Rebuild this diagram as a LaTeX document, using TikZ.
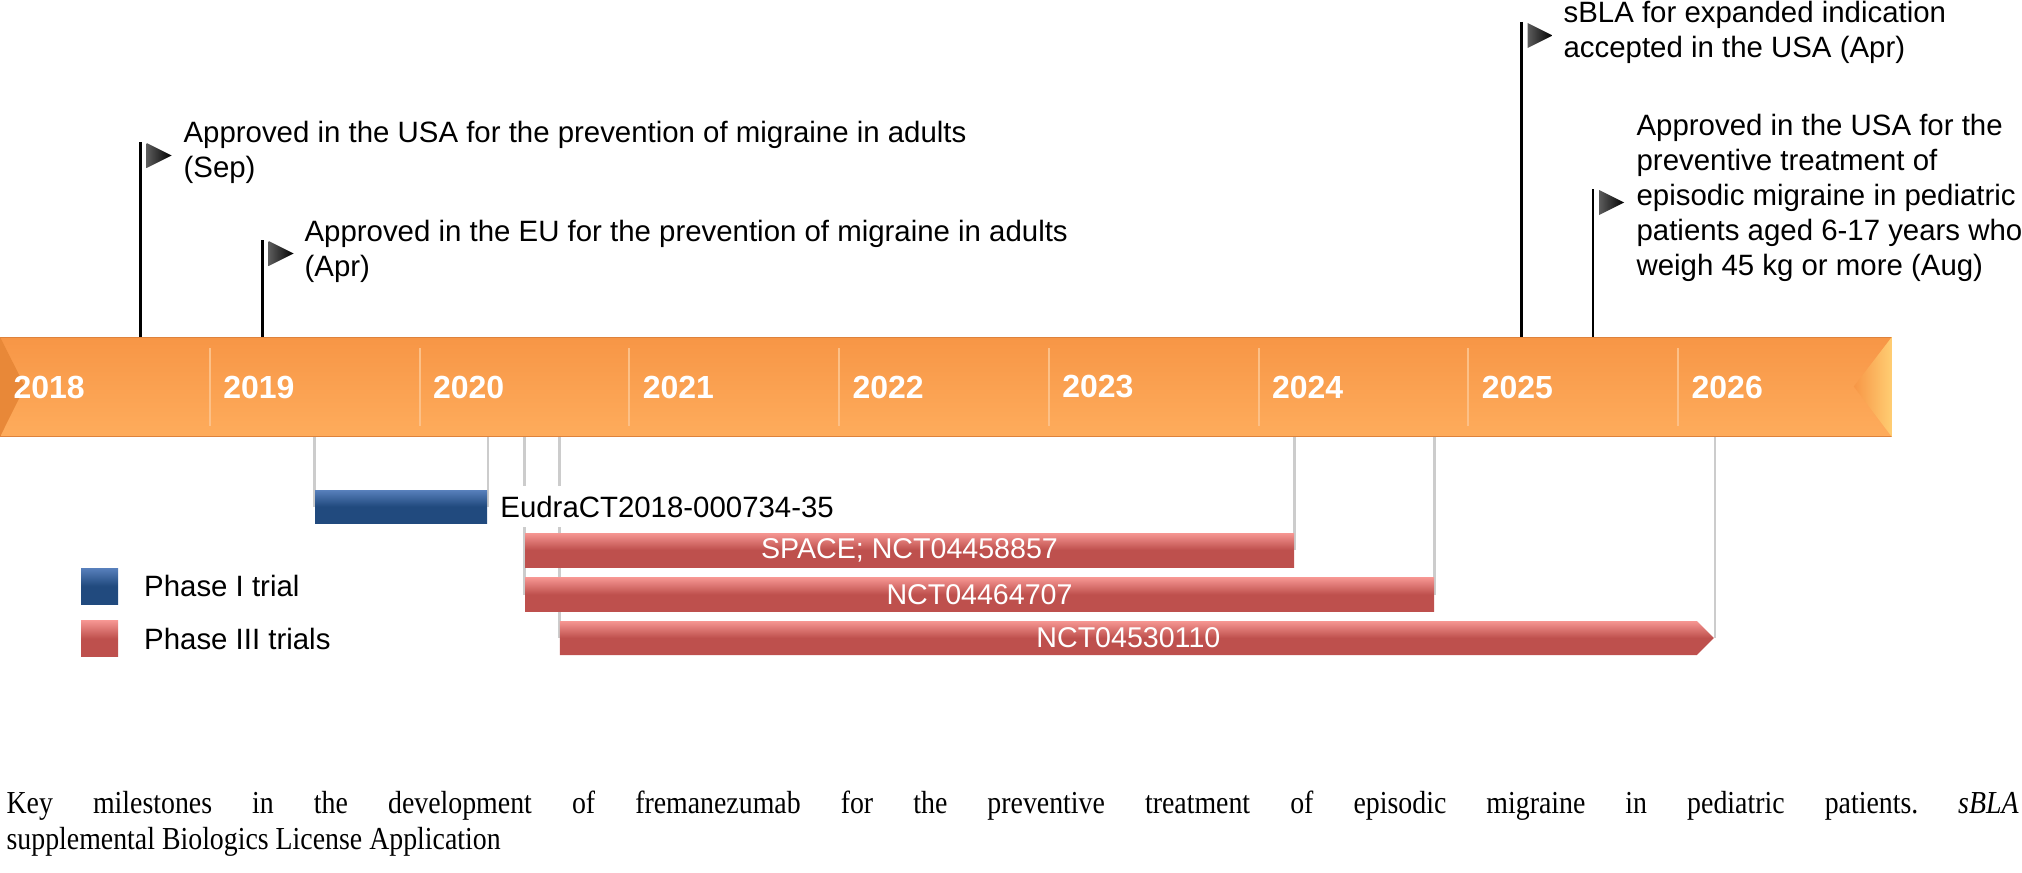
\documentclass[tikz,border=0pt]{standalone}
\usepackage{fontspec}
\setmainfont{Liberation Sans}
\newfontfamily\capfont[FakeStretch=0.87]{Liberation Serif}
\usetikzlibrary{positioning,shapes.symbols,backgrounds}

\definecolor{tltop}{RGB}{247,150,70}
\definecolor{tlbot}{RGB}{254,172,92}
\definecolor{tledge}{RGB}{222,130,60}
\definecolor{tlleft}{RGB}{232,136,56}
\definecolor{tlright}{RGB}{255,206,115}
\definecolor{tldiv}{RGB}{252,192,135}
\definecolor{bluetop}{RGB}{88,128,188}
\definecolor{bluebot}{RGB}{33,74,126}
\definecolor{redtop}{RGB}{246,150,146}
\definecolor{redbot}{RGB}{190,80,77}
\definecolor{conngray}{RGB}{204,204,204}

\begin{document}
\begin{tikzpicture}[x=0.5pt,y=-0.5pt,semithick,
  every node/.style={font=\fontsize{14.7}{17.5}\selectfont},
  timeline/.style={rectangle,draw=tledge,thin,top color=tltop,bottom color=tlbot,
    minimum width=945.5pt,minimum height=49.5pt,inner sep=0,anchor=north west},
  yearlab/.style={text=white,font=\fontsize{16}{19}\selectfont\bfseries,anchor=west,inner sep=0},
  divider/.style={tldiv,line width=1pt},
  milestone/.style={align=left,anchor=north west,inner sep=0},
  pole/.style={black,line width=1.2pt},
  flagtip/.style={left color=black!55,right color=black},
  conn/.style={conngray,line width=1.2pt},
  blueshade/.style={top color=bluetop,bottom color=bluebot,middle color=bluebot},
  redshade/.style={top color=redtop,bottom color=redbot,middle color=redbot},
  legbox/.style={rectangle,minimum width=18.5pt,minimum height=18pt,inner sep=0}]
  \tikzstyle{phaseone}=[rectangle,blueshade,
    minimum height=16.5pt,inner sep=0,anchor=west]
  \tikzstyle{phasethree}=[rectangle,redshade,
    minimum height=17pt,inner sep=0,anchor=west,text=white,
    font=\fontsize{14.3}{17}\selectfont]

  \useasboundingbox (0,0) rectangle (2022,872);

  % timeline bar
  \node[timeline] (tl) at (0,337) {};
  \fill[tlleft] (tl.north west) -- ++(25,49.5) -- (tl.south west) -- cycle;
  \shade[left color=tltop,right color=tlright] (tl.north east) -- ++(-38,49.5) -- (tl.south east) -- cycle;
  \foreach \i in {1,...,8}
    \draw[divider] (\i*209.75,348) -- (\i*209.75,426);
  \foreach \yr [count=\i from 0] in {2018,...,2026}
    \node[yearlab] (y\yr) at (\i*209.75+13,387) {\yr};

  % milestones
  \coordinate (f1) at (140.5,142);
  \coordinate (f2) at (262.5,240);
  \coordinate (f3) at (1521.5,22);
  \coordinate (f4) at (1593,189);
  \foreach \f in {f1,f2,f3,f4} {
    \draw[pole] (\f) -- (\f |- tl.north);
    \shade[flagtip] (\f) ++(6,1) -- ++(25,12.5) -- ++(-25,12.5) -- cycle;
  }
  \node[milestone] (m1) at (183,121)
    {Approved in the USA for the prevention of migraine in adults\\(Sep)};
  \node[milestone] (m2) at (304,220)
    {Approved in the EU for the prevention of migraine in adults\\(Apr)};
  \node[milestone] (m3) at (1563,1)
    {sBLA for expanded indication\\accepted in the USA (Apr)};
  \node[milestone] (m4) at (1636,114)
    {Approved in the USA for the\\preventive treatment of\\episodic migraine in pediatric\\patients aged 6-17 years who\\weigh 45 kg or more (Aug)};

  % trials
  \node[phaseone,minimum width=86pt] (p1) at (314.6,506.5) {};
  \node[right=4pt of p1,fill=white,inner xsep=2pt,inner ysep=5pt] (p1lab) {EudraCT2018-000734-35};
  \node[phasethree,minimum width=384.5pt] (p3a) at (524.4,550) {SPACE; NCT04458857};
  \node[phasethree,minimum width=454.5pt] (p3b) at (524.4,594.5) {NCT04464707};
  \node[phasethree,signal,signal to=east,minimum width=577pt] (p3c) at (559.3,638) {NCT04530110};

  \begin{scope}[on background layer]
    \foreach \b in {p1,p3a,p3b,p3c} {
      \draw[conn] (\b.west |- tl.south) -- (\b.west);
      \draw[conn] (\b.east |- tl.south) -- (\b.east);
    }
  \end{scope}

  % legend
  \node[legbox,blueshade] (lg1) at (99.5,586) {};
  \node[right=12.5pt of lg1,inner sep=0] (lg1t) {Phase I trial};
  \node[legbox,redshade] (lg3) at (99.5,638.5) {};
  \node[right=12.5pt of lg3,inner sep=0] (lg3t) {Phase III trials};

  % caption
  \node[anchor=base west,text width=1006pt,align=justify,inner sep=0,
    font=\capfont\fontsize{16}{18}\selectfont\frenchspacing] (cap) at (6,813)
    {Key milestones in the development of fremanezumab for the preventive treatment of episodic migraine in pediatric patients. \textit{sBLA}\linebreak supplemental Biologics License Application};
\end{tikzpicture}
\end{document}
